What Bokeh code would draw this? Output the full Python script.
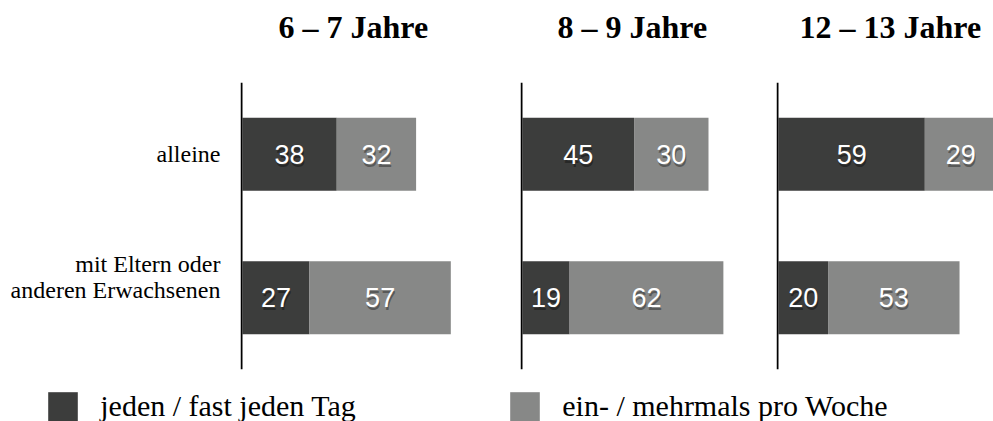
from bokeh.plotting import figure
from bokeh.layouts import column, row, Spacer
from bokeh.models import (ColumnDataSource, FactorRange, Range1d, Span, Title,
                          Legend, LegendItem)
from bokeh.core.properties import value
from bokeh.embed import file_html
from bokeh.resources import INLINE

# ---------------- data ----------------
groups = ["6 – 7 Jahre", "8 – 9 Jahre", "12 – 13 Jahre"]
categories = ["alleine", "mit Eltern oder\nanderen Erwachsenen"]
daily = [[38, 27], [45, 19], [59, 20]]        # jeden / fast jeden Tag
weekly = [[32, 57], [30, 62], [29, 53]]       # ein- / mehrmals pro Woche
series_labels = ["jeden / fast jeden Tag", "ein- / mehrmals pro Woche"]

# ---------------- style ----------------
DARK = "#3c3d3c"
LIGHT = "#878887"
SERIF = "Liberation Serif"
SANS = "Liberation Sans"
PX_PER_UNIT = 2.48
TITLE_H = 82
PLOT_H = 298
FRAME_BOTTOM_PAD = 11
LABEL_W = 240
fig_widths = [280, 256, 217]
title_offsets = [38, 37, 23]
PAD_PX = 2  # gap between axis line and bar start

def yrange():
    return FactorRange(factors=categories[::-1], range_padding=0)

# ---------------- title strip ----------------
strips = [Spacer(width=LABEL_W, height=TITLE_H)]
for i, g in enumerate(groups):
    s = figure(width=fig_widths[i], height=TITLE_H, output_backend="svg",
               toolbar_location=None, x_axis_location=None,
               y_axis_location=None, x_range=Range1d(0, 1),
               y_range=Range1d(0, 1), min_border=0,
               outline_line_color=None, background_fill_color=None)
    s.grid.visible = False
    s.title = Title(text=g, align="left", offset=title_offsets[i],
                    text_font=SERIF, text_font_size="32px",
                    text_font_style="bold", text_color="black", standoff=13)
    strips.append(s)

# ---------------- category label column ----------------
lab = figure(width=LABEL_W, height=PLOT_H, y_range=yrange(),
             x_range=Range1d(0, 1), output_backend="svg",
             toolbar_location=None, x_axis_location=None,
             y_axis_location=None, min_border_left=0, min_border_right=0,
             min_border_top=0, min_border_bottom=FRAME_BOTTOM_PAD,
             outline_line_color=None, background_fill_color=None)
lab.grid.visible = False
n_lines = [c.count("\n") + 1 for c in categories]
lab_src = ColumnDataSource(dict(
    cat=categories,
    x=[lab.x_range.end] * len(categories),
    yoff=[-21 * (n - 1) for n in n_lines],
))
lab.text(x="x", y="cat", text="cat", source=lab_src, x_offset=-20,
         y_offset="yoff", text_align="right", text_baseline="middle",
         text_font=value(SERIF), text_font_size="24px", text_color="black",
         text_line_height=1.0)

figs = [lab]
for i, g in enumerate(groups):
    frame_w = fig_widths[i]
    x0 = -PAD_PX / PX_PER_UNIT
    p = figure(width=fig_widths[i], height=PLOT_H, y_range=yrange(),
               x_range=Range1d(x0, x0 + frame_w / PX_PER_UNIT),
               output_backend="svg", toolbar_location=None,
               x_axis_location=None, y_axis_location=None,
               min_border_left=0, min_border_right=0,
               min_border_top=0, min_border_bottom=FRAME_BOTTOM_PAD,
               background_fill_color=None, border_fill_color="white",
               outline_line_color=None)
    p.grid.visible = False

    d = daily[i]
    w = weekly[i]
    src = ColumnDataSource(dict(
        cat=categories,
        zero=[0] * len(d),
        d_end=d,
        w_end=[a + b for a, b in zip(d, w)],
        d_mid=[a / 2 for a in d],
        w_mid=[a + b / 2 for a, b in zip(d, w)],
        d_txt=[str(a) for a in d],
        w_txt=[str(b) for b in w],
    ))
    p.hbar(y="cat", left="zero", right="d_end", height=0.51, source=src,
           fill_color=DARK, line_color=None)
    p.hbar(y="cat", left="d_end", right="w_end", height=0.51, source=src,
           fill_color=LIGHT, line_color=None)
    for xcol, tcol in (("d_mid", "d_txt"), ("w_mid", "w_txt")):
        p.text(x=xcol, y="cat", text=tcol, source=src, x_offset=1, y_offset=3,
               text_align="center", text_baseline="middle",
               text_font=value(SANS), text_font_size="27px",
               text_color="black", text_alpha=0.35)
        p.text(x=xcol, y="cat", text=tcol, source=src,
               text_align="center", text_baseline="middle",
               text_font=value(SANS), text_font_size="27px",
               text_color="white")
    p.add_layout(Span(location=x0 / 2, dimension="height",
                      line_color="black", line_width=2))
    figs.append(p)

# ---------------- legend strip ----------------
leg = figure(width=993, height=41, output_backend="svg", toolbar_location=None,
             x_axis_location=None, y_axis_location=None,
             x_range=Range1d(0, 1), y_range=Range1d(0, 1),
             min_border=0, outline_line_color=None,
             background_fill_color=None)
leg.grid.visible = False
nan = float("nan")
lsrc = ColumnDataSource(dict(l=[nan], r=[nan], b=[nan], t=[nan]))
r1 = leg.quad(left="l", right="r", bottom="b", top="t", source=lsrc,
              fill_color=DARK, line_color=None)
r2 = leg.quad(left="l", right="r", bottom="b", top="t", source=lsrc,
              fill_color=LIGHT, line_color=None)
legend = Legend(items=[LegendItem(label=series_labels[0], renderers=[r1]),
                       LegendItem(label=series_labels[1], renderers=[r2])],
                orientation="horizontal", location=(44.25, -3.75),
                glyph_width=37, glyph_height=37, label_standoff=19,
                label_width=406, spacing=0, padding=0, margin=0,
                border_line_color=None, background_fill_alpha=0,
                label_text_font=SERIF, label_text_font_size="30px",
                label_text_color="black")
leg.add_layout(legend)

layout = column(row(*strips, spacing=0), row(*figs, spacing=0), leg,
                spacing=0)
open("out.html", "w").write(file_html(layout, INLINE))
